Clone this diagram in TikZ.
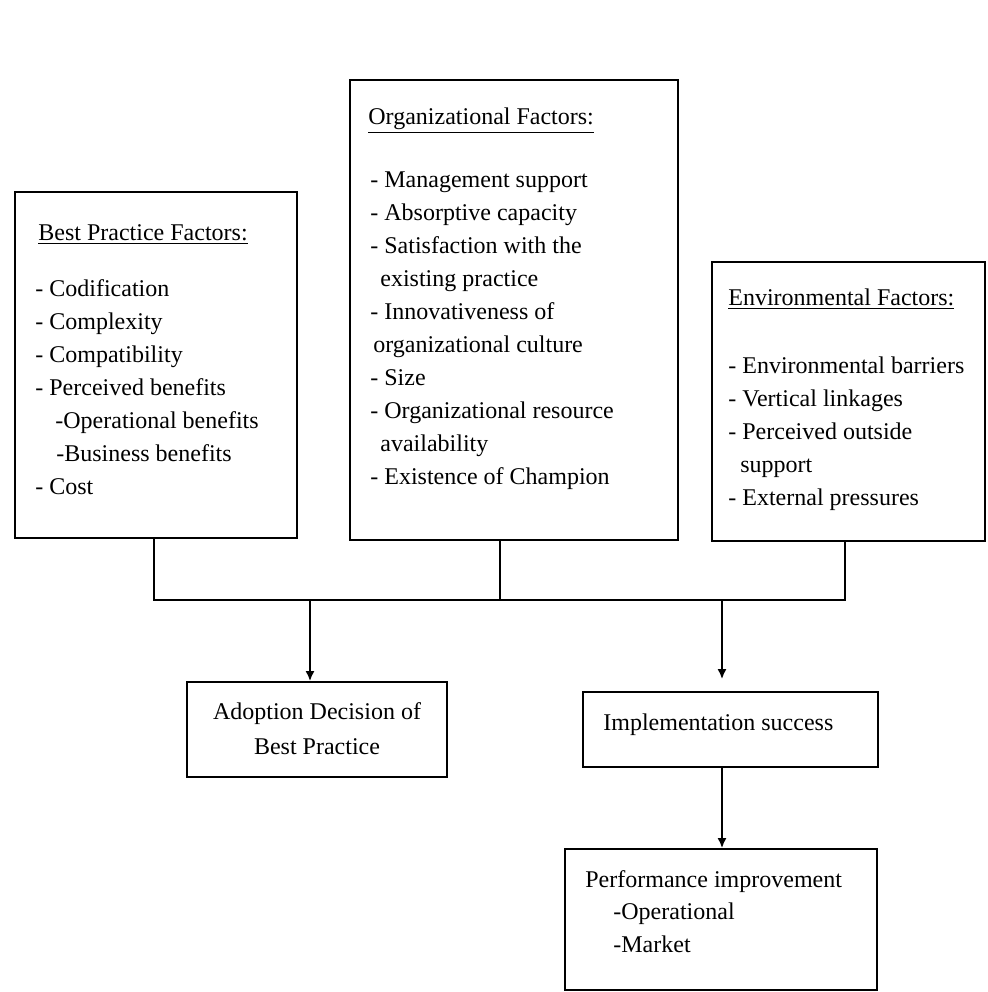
\documentclass[tikz,border=0pt]{standalone}
\usepackage{fontspec}
\setmainfont{Liberation Serif}
\usetikzlibrary{arrows.meta,calc}
\begin{document}
\begin{tikzpicture}[x=0.5pt,y=-0.5pt,
  box/.style={draw, rectangle, line width=0.9pt, inner sep=0pt},
  txt/.style={anchor=base west, inner sep=0pt, font=\fontsize{12}{14}\selectfont},
  ctxt/.style={anchor=base, inner sep=0pt, font=\fontsize{12}{14}\selectfont},
  conn/.style={line width=0.9pt},
  arr/.style={line width=0.9pt, -{Latex[length=5pt,width=4.5pt]}}]
\useasboundingbox (0,0) rectangle (987,992);

% ---- boxes
\node[box, minimum width=141pt, minimum height=173pt] (bp) at (156,365) {};
\node[box, minimum width=164pt, minimum height=230pt] (org) at (514,310) {};
\node[box, minimum width=136.5pt, minimum height=139.5pt] (env) at (848.5,401.5) {};
\node[box, minimum width=130pt, minimum height=47.5pt] (adp) at (317,729.5) {};
\node[box, minimum width=147.5pt, minimum height=37.5pt] (imp) at (730.5,729.5) {};
\node[box, minimum width=156pt, minimum height=70.5pt] (perf) at (721,919.5) {};

% ---- Best practice factors
\node[txt] (bptitle) at (38,240) {\underline{Best Practice Factors:}};
\foreach \dx/\yy/\t [count=\i] in {
  35/296/{- Codification},
  35/329/{- Complexity},
  35/362/{- Compatibility},
  35/395/{- Perceived benefits},
  55/428/{-Operational benefits},
  56/461/{-Business benefits},
  35/494/{- Cost}}
  \node[txt] (bp\i) at (\dx,\yy) {\t};

% ---- Organizational factors
\node[txt] (orgtitle) at (368,124) {\underline{Organizational Factors:}};
\foreach \dx/\yy/\t [count=\i] in {
  370/187/{- Management support},
  370/220/{- Absorptive capacity},
  370/253/{- Satisfaction with the},
  380/286/{existing practice},
  370/319/{- Innovativeness of},
  373/352/{organizational culture},
  370/385/{- Size},
  370/418/{- Organizational resource},
  380/451/{availability},
  370/484/{- Existence of Champion}}
  \node[txt] (org\i) at (\dx,\yy) {\t};

% ---- Environmental factors
\node[txt] (envtitle) at (728,305) {\underline{Environmental Factors:}};
\foreach \dx/\yy/\t [count=\i] in {
  728/373/{- Environmental barriers},
  728/406/{- Vertical linkages},
  728/439/{- Perceived outside},
  740/472/{support},
  728/505/{- External pressures}}
  \node[txt] (env\i) at (\dx,\yy) {\t};

% ---- outcome boxes text
\node[ctxt] (adp1) at (317,719) {Adoption Decision of};
\node[ctxt] (adp2) at (317,754) {Best Practice};
\node[txt] (imp1) at (603,730) {Implementation success};
\node[txt] (perf1) at (585,887) {Performance improvement};
\node[txt] (perf2) at (613,919) {-Operational};
\node[txt] (perf3) at (613,952) {-Market};

% ---- bus and connectors
\coordinate (b1) at (154,600);
\coordinate (b2) at (500,600);
\coordinate (b3) at (845,600);
\coordinate (a1) at (310,600);
\coordinate (a2) at (722,600);
\draw[conn] (b1 |- bp.south) -- (b1) -- (b3) -- (b3 |- env.south);
\draw[conn] (b2 |- org.south) -- (b2);
\draw[arr] (a1) -- (a1 |- adp.north);
\draw[arr, shorten >=6pt] (a2) -- (a2 |- imp.north);
\draw[arr] (a2 |- imp.south) -- (a2 |- perf.north);
\end{tikzpicture}
\end{document}
